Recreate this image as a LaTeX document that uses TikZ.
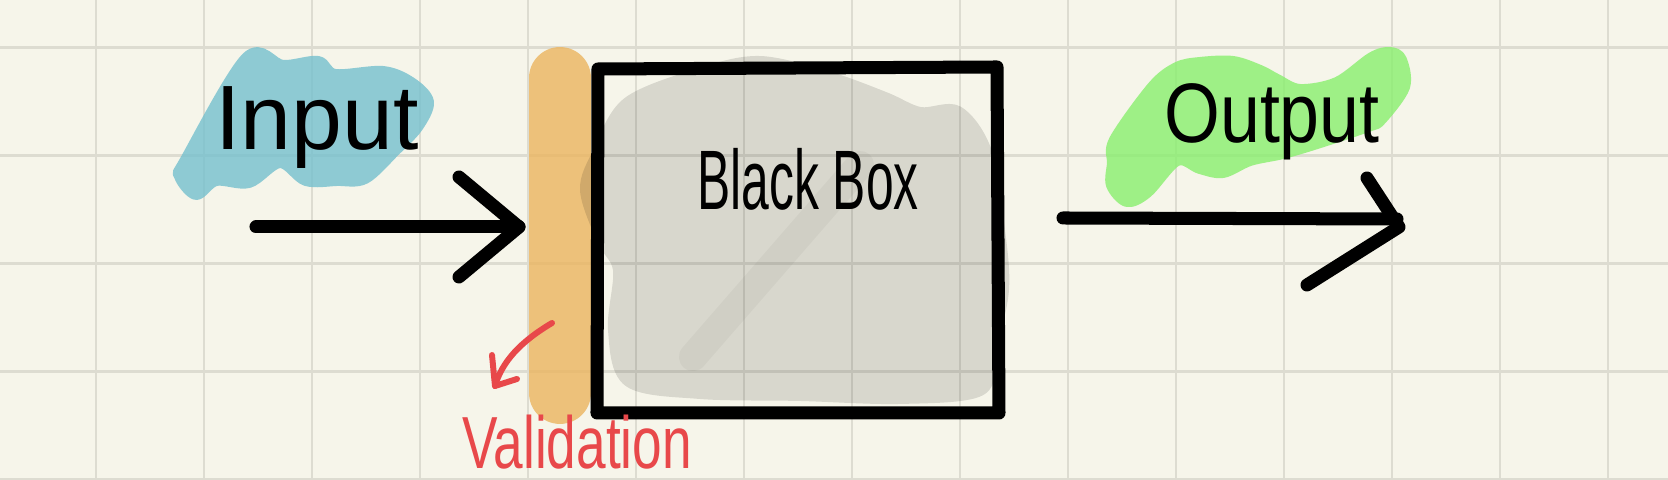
\documentclass[tikz,border=0pt]{standalone}
\usepackage{fontspec}
\setmainfont{Liberation Sans}
\definecolor{paper}{RGB}{246,245,234}
\definecolor{gridline}{RGB}{221,220,209}
\definecolor{inblue}{RGB}{117,192,206}
\definecolor{outgreen}{RGB}{136,239,110}
\definecolor{valorange}{RGB}{235,180,95}
\definecolor{valred}{RGB}{232,72,74}
\tikzset{
  pen/.style={line width=3.7pt, line cap=round, line join=round},
  redpen/.style={valred, line width=1.7pt, line cap=round, line join=round},
  marker/.style={fill=#1, draw=#1, line width=3.4pt, line join=round},
  hand/.style={font=\fontsize{#1}{#1}\selectfont, inner sep=0pt, anchor=base},
}
\begin{document}
\begin{tikzpicture}[x=0.01cm, y=-0.01cm]
  % paper
  \useasboundingbox (0,0) rectangle (1668,480);
  \fill[paper] (0,0) rectangle (1668,480);
  \foreach \x in {96,204,...,1608}
    \draw[gridline, line width=0.85pt] (\x,0) -- (\x,480);
  \foreach \y in {48,156,...,480}
    \draw[gridline, line width=0.85pt] (0,\y) -- (1668,\y);

  % highlights
  \draw[valorange, line width=17.6pt, line cap=round, opacity=0.8] (560,78) -- (560,393);
  \begin{scope}[transparency group, opacity=0.8]
    \path[marker=inblue] plot[smooth cycle, tension=0.55] coordinates {
      (247,58) (283,66) (318,62) (335,75) (383,72) (411,83) (428,102) (417,127)
      (395,150) (365,178) (337,180) (306,180) (280,162) (249,182) (216,180)
      (196,194) (180,176) (186,160)};
    \path[marker=outgreen] plot[smooth cycle, tension=0.55] coordinates {
      (1112,185) (1127,201) (1147,192) (1177,160) (1200,168) (1223,172)
      (1250,160) (1283,153) (1317,143) (1368,126) (1381,119) (1404,87)
      (1401,60) (1390,53) (1372,58) (1337,83) (1300,90) (1277,80) (1260,71)
      (1233,62) (1200,63) (1177,68) (1153,87) (1115,140) (1113,163)};
  \end{scope}
  \begin{scope}[transparency group, opacity=0.12]
    \path[marker=black] plot[smooth cycle, tension=0.55] coordinates {
      (628,103) (700,74) (760,62) (830,78) (885,98) (920,113) (958,112)
      (986,152) (999,230) (1003,290) (990,350) (980,390) (900,398) (800,395)
      (700,393) (629,381) (614,330) (619,270) (603,240) (586,190) (599,152)};
  \end{scope}
  \draw[black, opacity=0.035, line width=8pt, line cap=round] (693,357) -- (860,165);

  % black box
  \coordinate (box-nw) at (598,69);
  \coordinate (box-ne) at (997,67);
  \coordinate (box-se) at (999,413);
  \coordinate (box-sw) at (597,413);
  \draw[pen] (box-nw) -- (box-ne) -- (box-se) -- (box-sw) -- cycle;

  % input arrow
  \coordinate (in-tail) at (256,227);
  \coordinate (in-tip) at (519,227);
  \coordinate (in-up) at (459,177);
  \coordinate (in-down) at (459,277);
  \draw[pen] (in-tail) -- (in-tip);
  \draw[pen] (in-up) -- (in-tip) -- (in-down);

  % output arrow
  \coordinate (out-tail) at (1063,218);
  \coordinate (out-tip) at (1399,227);
  \coordinate (out-up) at (1367,178);
  \coordinate (out-down) at (1307,285);
  \draw[pen] (out-tail) -- (1397,219);
  \draw[pen] (out-up) -- (out-tip) -- (out-down);

  % validation arrow
  \coordinate (val-start) at (552,323);
  \coordinate (val-tip) at (495,386);
  \coordinate (val-up) at (492,355);
  \coordinate (val-right) at (517,379);
  \draw[redpen] (val-start) .. controls (520,342) and (502,362) .. (val-tip);
  \draw[redpen] (val-up) -- (val-tip) -- (val-right);

  % labels
  \node[hand=26] (input) at (317,150) {Input};
  \node[hand=24] (output) at (1272,143) {\scalebox{0.85}[1]{Output}};
  \node[hand=24] (blackbox) at (808,210) {\scalebox{0.59}[1]{Black Box}};
  \node[hand=21, valred] (validation) at (577,469) {\scalebox{0.72}[1]{Validation}};
\end{tikzpicture}
\end{document}
